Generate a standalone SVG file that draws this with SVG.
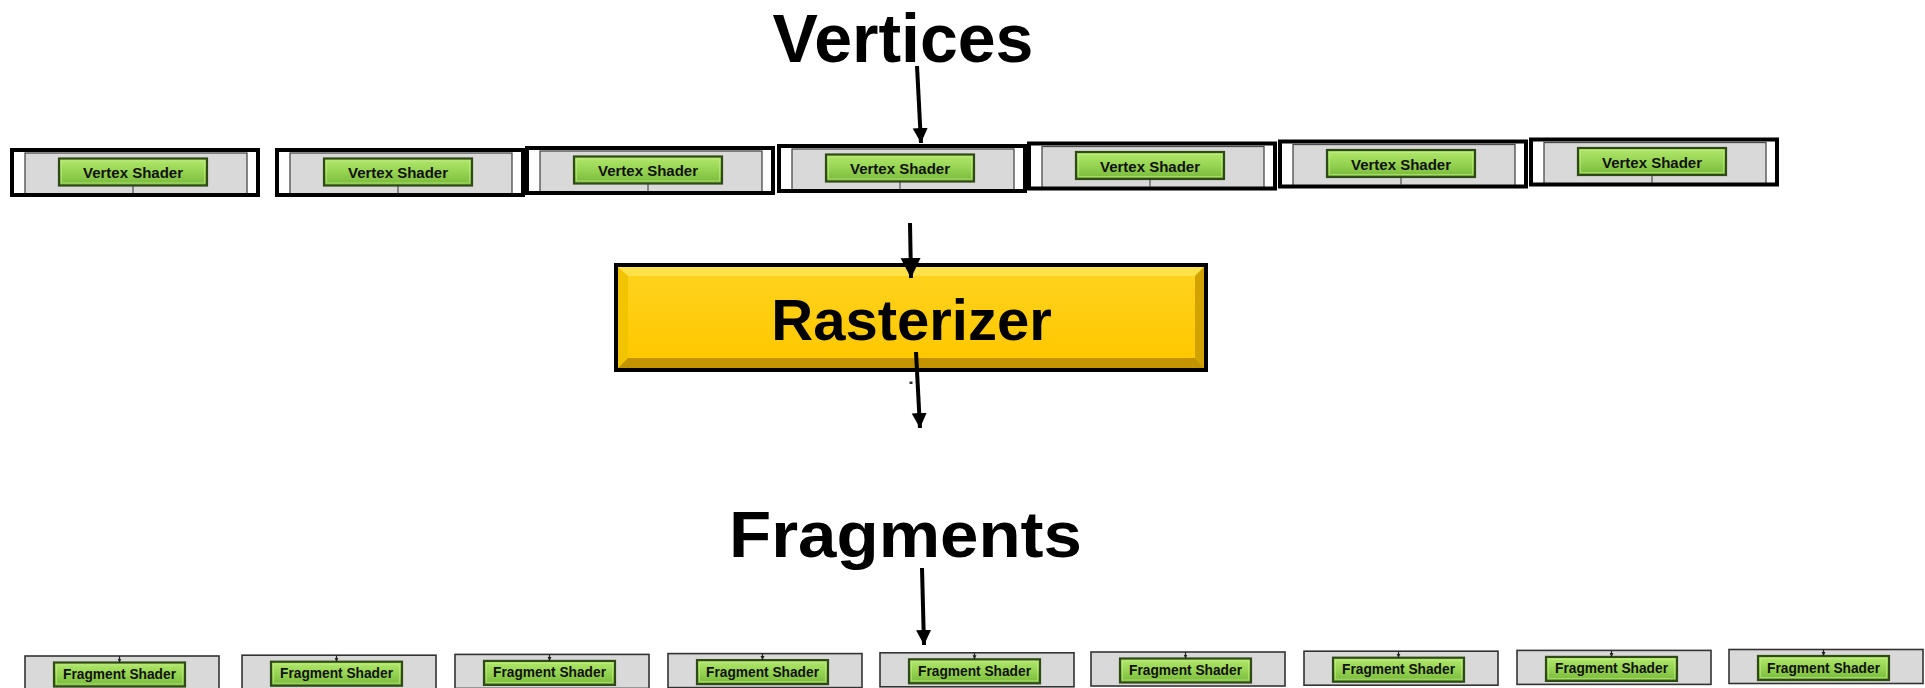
<svg xmlns="http://www.w3.org/2000/svg" width="1925" height="688" viewBox="0 0 1925 688">
  <style>
    .title { font-family: "Liberation Sans", Arial, sans-serif; font-weight: bold; fill: #000; text-anchor: middle; }
    .vbg { fill: #fff; }
    .vpanel { fill: #d9d9d9; stroke: #4a4a4a; stroke-width: 1.3; }
    .vframe { fill: none; stroke: #000; stroke-width: 4; }
    .fpanel { fill: #d9d9d9; stroke: #333; stroke-width: 1.6; }
    .btn { fill: url(#btnFace); stroke: #2f4a16; stroke-width: 2.2; }
    .btnhi { fill: none; stroke: #c4ef8c; stroke-width: 1; opacity: 0.6; }
    .lbl { font-family: "Liberation Sans", Arial, sans-serif; font-weight: bold; font-size: 15px; fill: #111; text-anchor: middle; }
    .tick { stroke: #333; stroke-width: 1; }
    .wire { stroke: #000; stroke-width: 4; fill: none; }
    .thin { stroke: #222; stroke-width: 1.2; fill: none; }
  </style>
  <defs>
    <linearGradient id="btnFace" x1="0" y1="0" x2="0" y2="1">
      <stop offset="0" stop-color="#b2e86c"/>
      <stop offset="0.5" stop-color="#96d452"/>
      <stop offset="1" stop-color="#78b93a"/>
    </linearGradient>
    <linearGradient id="rastFace" x1="0" y1="0" x2="0" y2="1">
      <stop offset="0" stop-color="#ffd21c"/>
      <stop offset="1" stop-color="#ffc800"/>
    </linearGradient>
    <marker id="head" viewBox="0 0 10 10" refX="10" refY="5" markerUnits="userSpaceOnUse" markerWidth="15" markerHeight="17" orient="auto">
      <path d="M0,0 L10,5 L0,10 z" fill="#000"/>
    </marker>
    <marker id="headBig" viewBox="0 0 10 10" refX="10" refY="5" markerUnits="userSpaceOnUse" markerWidth="20" markerHeight="22" orient="auto">
      <path d="M0,0 L10,5 L0,10 z" fill="#000"/>
    </marker>
    <marker id="headTiny" viewBox="0 0 10 10" refX="10" refY="5" markerUnits="userSpaceOnUse" markerWidth="4" markerHeight="5" orient="auto">
      <path d="M0,0 L10,5 L0,10 z" fill="#222"/>
    </marker>
  </defs>

  <rect width="1925" height="688" fill="#fff"/>

  <!-- stage headings -->
  <g id="vertices">
    <text class="title" x="903" y="62" font-size="68">Vertices</text>
  </g>
  <g id="fragments">
    <text class="title" x="905.5" y="557" font-size="64" textLength="353" lengthAdjust="spacingAndGlyphs">Fragments</text>
  </g>

  <!-- vertex shader units -->
  <g id="vs1" transform="translate(10,148)">
    <rect class="vbg" x="2" y="2" width="246" height="45"/>
    <rect class="vpanel" x="15" y="5" width="222" height="42"/>
    <rect class="btn" x="49" y="10.5" width="148" height="27"/>
    <rect class="btnhi" x="51.5" y="13" width="143" height="22"/>
    <line class="tick" x1="123" y1="37.5" x2="123" y2="45"/>
    <text class="lbl" x="123" y="30">Vertex Shader</text>
    <rect class="vframe" x="2" y="2" width="246" height="45"/>
  </g>
  <g id="vs2" transform="translate(275,148)">
    <rect class="vbg" x="2" y="2" width="246" height="45"/>
    <rect class="vpanel" x="15" y="5" width="222" height="42"/>
    <rect class="btn" x="49" y="10.5" width="148" height="27"/>
    <rect class="btnhi" x="51.5" y="13" width="143" height="22"/>
    <line class="tick" x1="123" y1="37.5" x2="123" y2="45"/>
    <text class="lbl" x="123" y="30">Vertex Shader</text>
    <rect class="vframe" x="2" y="2" width="246" height="45"/>
  </g>
  <g id="vs3" transform="translate(525,146)">
    <rect class="vbg" x="2" y="2" width="246" height="45"/>
    <rect class="vpanel" x="15" y="5" width="222" height="42"/>
    <rect class="btn" x="49" y="10.5" width="148" height="27"/>
    <rect class="btnhi" x="51.5" y="13" width="143" height="22"/>
    <line class="tick" x1="123" y1="37.5" x2="123" y2="45"/>
    <text class="lbl" x="123" y="30">Vertex Shader</text>
    <rect class="vframe" x="2" y="2" width="246" height="45"/>
  </g>
  <g id="vs4" transform="translate(777,144)">
    <rect class="vbg" x="2" y="2" width="246" height="45"/>
    <rect class="vpanel" x="15" y="5" width="222" height="42"/>
    <rect class="btn" x="49" y="10.5" width="148" height="27"/>
    <rect class="btnhi" x="51.5" y="13" width="143" height="22"/>
    <line class="tick" x1="123" y1="37.5" x2="123" y2="45"/>
    <text class="lbl" x="123" y="30">Vertex Shader</text>
    <rect class="vframe" x="2" y="2" width="246" height="45"/>
  </g>
  <g id="vs5" transform="translate(1027,141.5)">
    <rect class="vbg" x="2" y="2" width="246" height="45"/>
    <rect class="vpanel" x="15" y="5" width="222" height="42"/>
    <rect class="btn" x="49" y="10.5" width="148" height="27"/>
    <rect class="btnhi" x="51.5" y="13" width="143" height="22"/>
    <line class="tick" x1="123" y1="37.5" x2="123" y2="45"/>
    <text class="lbl" x="123" y="30">Vertex Shader</text>
    <rect class="vframe" x="2" y="2" width="246" height="45"/>
  </g>
  <g id="vs6" transform="translate(1278,139.5)">
    <rect class="vbg" x="2" y="2" width="246" height="45"/>
    <rect class="vpanel" x="15" y="5" width="222" height="42"/>
    <rect class="btn" x="49" y="10.5" width="148" height="27"/>
    <rect class="btnhi" x="51.5" y="13" width="143" height="22"/>
    <line class="tick" x1="123" y1="37.5" x2="123" y2="45"/>
    <text class="lbl" x="123" y="30">Vertex Shader</text>
    <rect class="vframe" x="2" y="2" width="246" height="45"/>
  </g>
  <g id="vs7" transform="translate(1529,137.5)">
    <rect class="vbg" x="2" y="2" width="246" height="45"/>
    <rect class="vpanel" x="15" y="5" width="222" height="42"/>
    <rect class="btn" x="49" y="10.5" width="148" height="27"/>
    <rect class="btnhi" x="51.5" y="13" width="143" height="22"/>
    <line class="tick" x1="123" y1="37.5" x2="123" y2="45"/>
    <text class="lbl" x="123" y="30">Vertex Shader</text>
    <rect class="vframe" x="2" y="2" width="246" height="45"/>
  </g>

  <!-- rasterizer block with bevelled face -->
  <g id="rasterizer">
    <rect x="616" y="265" width="590" height="105" fill="#ffcc00" stroke="#000" stroke-width="4"/>
    <polygon points="618,267 1204,267 1195,276 628,276" fill="#ffe24a"/>
    <polygon points="618,267 628,276 628,358 618,368" fill="#f2c400"/>
    <polygon points="1204,267 1204,368 1195,358 1195,276" fill="#d2a200"/>
    <polygon points="618,368 628,358 1195,358 1204,368" fill="#c39400"/>
    <rect x="628" y="276" width="567" height="82" fill="url(#rastFace)"/>
    <text class="title" x="911.5" y="340" font-size="58" fill="#111">Rasterizer</text>
  </g>

  <!-- fragment shader units -->
  <g id="fs1" transform="translate(25,656)">
    <rect class="fpanel" x="0" y="0" width="194" height="34"/>
    <rect class="btn" x="29" y="6.5" width="131" height="24"/>
    <rect class="btnhi" x="31.5" y="9" width="126" height="19"/>
    <line class="thin" x1="94.5" y1="0" x2="94.5" y2="6.5" marker-end="url(#headTiny)"/>
    <text class="lbl" x="94.5" y="23" textLength="113" lengthAdjust="spacingAndGlyphs">Fragment Shader</text>
  </g>
  <g id="fs2" transform="translate(242,655.2)">
    <rect class="fpanel" x="0" y="0" width="194" height="34"/>
    <rect class="btn" x="29" y="6.5" width="131" height="24"/>
    <rect class="btnhi" x="31.5" y="9" width="126" height="19"/>
    <line class="thin" x1="94.5" y1="0" x2="94.5" y2="6.5" marker-end="url(#headTiny)"/>
    <text class="lbl" x="94.5" y="23" textLength="113" lengthAdjust="spacingAndGlyphs">Fragment Shader</text>
  </g>
  <g id="fs3" transform="translate(455,654.4)">
    <rect class="fpanel" x="0" y="0" width="194" height="34"/>
    <rect class="btn" x="29" y="6.5" width="131" height="24"/>
    <rect class="btnhi" x="31.5" y="9" width="126" height="19"/>
    <line class="thin" x1="94.5" y1="0" x2="94.5" y2="6.5" marker-end="url(#headTiny)"/>
    <text class="lbl" x="94.5" y="23" textLength="113" lengthAdjust="spacingAndGlyphs">Fragment Shader</text>
  </g>
  <g id="fs4" transform="translate(668,653.6)">
    <rect class="fpanel" x="0" y="0" width="194" height="34"/>
    <rect class="btn" x="29" y="6.5" width="131" height="24"/>
    <rect class="btnhi" x="31.5" y="9" width="126" height="19"/>
    <line class="thin" x1="94.5" y1="0" x2="94.5" y2="6.5" marker-end="url(#headTiny)"/>
    <text class="lbl" x="94.5" y="23" textLength="113" lengthAdjust="spacingAndGlyphs">Fragment Shader</text>
  </g>
  <g id="fs5" transform="translate(880,652.8)">
    <rect class="fpanel" x="0" y="0" width="194" height="34"/>
    <rect class="btn" x="29" y="6.5" width="131" height="24"/>
    <rect class="btnhi" x="31.5" y="9" width="126" height="19"/>
    <line class="thin" x1="94.5" y1="0" x2="94.5" y2="6.5" marker-end="url(#headTiny)"/>
    <text class="lbl" x="94.5" y="23" textLength="113" lengthAdjust="spacingAndGlyphs">Fragment Shader</text>
  </g>
  <g id="fs6" transform="translate(1091,652)">
    <rect class="fpanel" x="0" y="0" width="194" height="34"/>
    <rect class="btn" x="29" y="6.5" width="131" height="24"/>
    <rect class="btnhi" x="31.5" y="9" width="126" height="19"/>
    <line class="thin" x1="94.5" y1="0" x2="94.5" y2="6.5" marker-end="url(#headTiny)"/>
    <text class="lbl" x="94.5" y="23" textLength="113" lengthAdjust="spacingAndGlyphs">Fragment Shader</text>
  </g>
  <g id="fs7" transform="translate(1304,651.2)">
    <rect class="fpanel" x="0" y="0" width="194" height="34"/>
    <rect class="btn" x="29" y="6.5" width="131" height="24"/>
    <rect class="btnhi" x="31.5" y="9" width="126" height="19"/>
    <line class="thin" x1="94.5" y1="0" x2="94.5" y2="6.5" marker-end="url(#headTiny)"/>
    <text class="lbl" x="94.5" y="23" textLength="113" lengthAdjust="spacingAndGlyphs">Fragment Shader</text>
  </g>
  <g id="fs8" transform="translate(1517,650.4)">
    <rect class="fpanel" x="0" y="0" width="194" height="34"/>
    <rect class="btn" x="29" y="6.5" width="131" height="24"/>
    <rect class="btnhi" x="31.5" y="9" width="126" height="19"/>
    <line class="thin" x1="94.5" y1="0" x2="94.5" y2="6.5" marker-end="url(#headTiny)"/>
    <text class="lbl" x="94.5" y="23" textLength="113" lengthAdjust="spacingAndGlyphs">Fragment Shader</text>
  </g>
  <g id="fs9" transform="translate(1729,649.5)">
    <rect class="fpanel" x="0" y="0" width="194" height="34"/>
    <rect class="btn" x="29" y="6.5" width="131" height="24"/>
    <rect class="btnhi" x="31.5" y="9" width="126" height="19"/>
    <line class="thin" x1="94.5" y1="0" x2="94.5" y2="6.5" marker-end="url(#headTiny)"/>
    <text class="lbl" x="94.5" y="23" textLength="113" lengthAdjust="spacingAndGlyphs">Fragment Shader</text>
  </g>

  <!-- flow arrows between stages -->
  <g id="connectors">
    <line class="wire" x1="917" y1="66" x2="921" y2="143" marker-end="url(#head)"/>
    <line class="wire" x1="910" y1="223" x2="911" y2="278" marker-end="url(#headBig)"/>
    <line class="wire" x1="916" y1="352" x2="920" y2="428" marker-end="url(#head)"/>
    <line class="wire" x1="922" y1="568" x2="924" y2="645" marker-end="url(#head)"/>
    <rect x="909.5" y="381.5" width="3" height="2.5" fill="#333"/>
  </g>
</svg>
